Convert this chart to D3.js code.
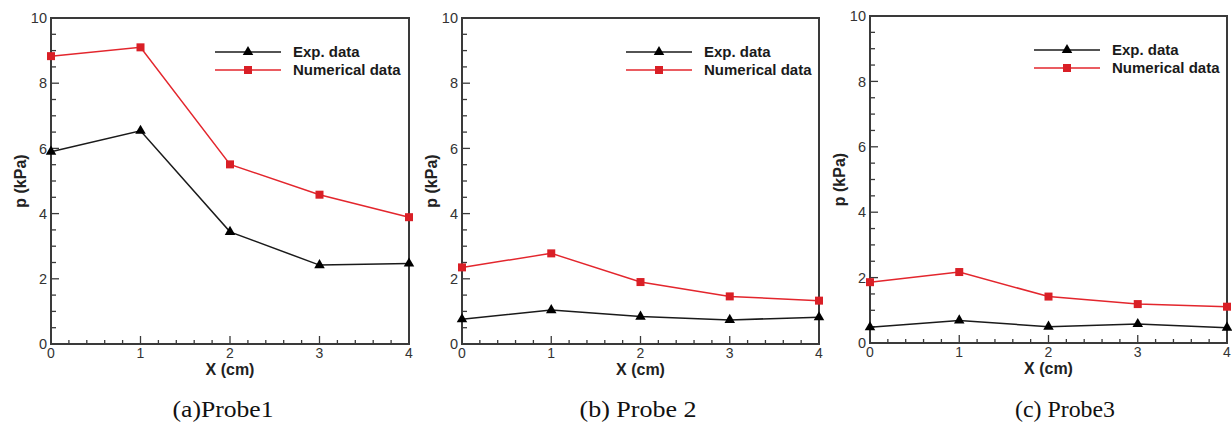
<!DOCTYPE html>
<html>
<head>
<meta charset="utf-8">
<script src="https://cdn.jsdelivr.net/npm/d3@7"></script>
<style>
  body { margin: 0; background: #fff; }
  svg { display: block; }
</style>
</head>
<body>
<script>
// x positions (cm) shared by all probes
const xValues = [0, 1, 2, 3, 4];

// Probe 1
const probe1Exp = [5.9, 6.54, 3.44, 2.42, 2.47];
const probe1Num = [8.83, 9.1, 5.51, 4.58, 3.89];
// Probe 2
const probe2Exp = [0.76, 1.04, 0.84, 0.74, 0.82];
const probe2Num = [2.35, 2.78, 1.9, 1.46, 1.33];
// Probe 3
const probe3Exp = [0.48, 0.69, 0.5, 0.58, 0.47];
const probe3Num = [1.86, 2.17, 1.42, 1.19, 1.11];

const captions = ["(a)Probe1", "(b) Probe 2", "(c) Probe3"];
const seriesNames = ["Exp. data", "Numerical data"];
const yTicks = [0, 2, 4, 6, 8, 10];
const xTicks = [0, 1, 2, 3, 4];

const width = 1232, height = 430;

const panels = [
  { exp: probe1Exp, num: probe1Num, left: 51, right: 409, top: 18, bottom: 344, capX: 223, capW: 101 },
  { exp: probe2Exp, num: probe2Num, left: 462, right: 819, top: 18, bottom: 344, capX: 638, capW: 117 },
  { exp: probe3Exp, num: probe3Num, left: 870, right: 1227, top: 16, bottom: 343, capX: 1065, capW: 100 }
];

const svg = d3.select("body").append("svg")
  .attr("width", width)
  .attr("height", height);

const frameColor = "#3a3a3a";
const expColor = "#1a1a1a";
const numColor = "#e3262d";

panels.forEach((p, i) => {
  const x = d3.scaleLinear().domain([0, 4]).range([p.left, p.right]);
  const y = d3.scaleLinear().domain([0, 10]).range([p.bottom, p.top]);
  const g = svg.append("g");

  // ticks pointing inward, major + minor
  g.append("g").selectAll("line")
    .data(d3.range(0, 4.001, 0.2))
    .join("line")
    .attr("x1", d => x(d)).attr("x2", d => x(d))
    .attr("y1", p.bottom).attr("y2", d => p.bottom - (Math.abs(d - Math.round(d)) < 1e-6 ? 8 : 4))
    .attr("stroke", frameColor).attr("stroke-width", 1.3);

  g.append("g").selectAll("line")
    .data(d3.range(0, 10.001, 0.5))
    .join("line")
    .attr("y1", d => y(d)).attr("y2", d => y(d))
    .attr("x1", p.left).attr("x2", d => p.left + (Math.abs(d / 2 - Math.round(d / 2)) < 1e-6 ? 8 : 5))
    .attr("stroke", frameColor).attr("stroke-width", 1.3);

  // frame
  g.append("rect")
    .attr("x", p.left).attr("y", p.top)
    .attr("width", p.right - p.left).attr("height", p.bottom - p.top)
    .attr("fill", "none").attr("stroke", frameColor).attr("stroke-width", 2);

  // tick labels
  g.append("g").selectAll("text")
    .data(yTicks)
    .join("text")
    .attr("x", p.left - 4).attr("y", d => y(d))
    .attr("dy", "0.36em")
    .attr("text-anchor", "end")
    .attr("font-family", "Liberation Sans, Arial, sans-serif")
    .attr("font-size", 14.5)
    .attr("fill", "#333")
    .text(d => d);

  g.append("g").selectAll("text")
    .data(xTicks)
    .join("text")
    .attr("x", d => x(d)).attr("y", p.bottom + 14)
    .attr("text-anchor", "middle")
    .attr("font-family", "Liberation Sans, Arial, sans-serif")
    .attr("font-size", 14)
    .attr("fill", "#333")
    .text(d => d);

  // axis titles
  g.append("text")
    .attr("x", (p.left + p.right) / 2).attr("y", p.bottom + 31)
    .attr("text-anchor", "middle")
    .attr("font-family", "Liberation Sans, Arial, sans-serif")
    .attr("font-weight", "bold")
    .attr("font-size", 16)
    .attr("fill", "#222")
    .text("X (cm)");

  g.append("text")
    .attr("transform", `translate(${p.left - 25},${(p.top + p.bottom) / 2}) rotate(-90)`)
    .attr("text-anchor", "middle")
    .attr("font-family", "Liberation Sans, Arial, sans-serif")
    .attr("font-weight", "bold")
    .attr("font-size", 16)
    .attr("fill", "#222")
    .text("p (kPa)");

  const line = d3.line().x((d, k) => x(xValues[k])).y(d => y(d));

  // series
  g.append("path").datum(p.num)
    .attr("d", line).attr("fill", "none")
    .attr("stroke", numColor).attr("stroke-width", 1.5);
  g.append("path").datum(p.exp)
    .attr("d", line).attr("fill", "none")
    .attr("stroke", expColor).attr("stroke-width", 1.5);

  const tri = d3.symbol().type(d3.symbolTriangle).size(48);

  g.append("g").selectAll("rect")
    .data(p.num)
    .join("rect")
    .attr("x", (d, k) => x(xValues[k]) - 4)
    .attr("y", d => y(d) - 4)
    .attr("width", 8).attr("height", 8)
    .attr("fill", "#d91f26");

  g.append("g").selectAll("path")
    .data(p.exp)
    .join("path")
    .attr("d", tri)
    .attr("transform", (d, k) => `translate(${x(xValues[k])},${y(d)})`)
    .attr("fill", "#000");

  // legend
  const lx = p.left + 164, ly = p.top + 34;
  [0, 1].forEach(s => {
    const yy = ly + s * 18;
    g.append("line")
      .attr("x1", lx).attr("x2", lx + 66)
      .attr("y1", yy).attr("y2", yy)
      .attr("stroke", s === 0 ? expColor : numColor).attr("stroke-width", 1.5);
    if (s === 0) {
      g.append("path").attr("d", tri)
        .attr("transform", `translate(${lx + 33},${yy})`).attr("fill", "#000");
    } else {
      g.append("rect").attr("x", lx + 29).attr("y", yy - 4)
        .attr("width", 8).attr("height", 8).attr("fill", "#d91f26");
    }
    g.append("text")
      .attr("x", lx + 78).attr("y", yy + 5)
      .attr("font-family", "Liberation Sans, Arial, sans-serif")
      .attr("font-weight", "bold")
      .attr("font-size", 15)
      .attr("fill", "#1a1a1a")
      .text(seriesNames[s]);
  });

  // caption
  g.append("text")
    .attr("x", p.capX - p.capW / 2).attr("y", 417)
    .attr("font-family", "Liberation Serif, Times New Roman, serif")
    .attr("font-size", 23)
    .attr("textLength", p.capW)
    .attr("lengthAdjust", "spacingAndGlyphs")
    .attr("fill", "#111")
    .text(captions[i]);
});
</script>
</body>
</html>
